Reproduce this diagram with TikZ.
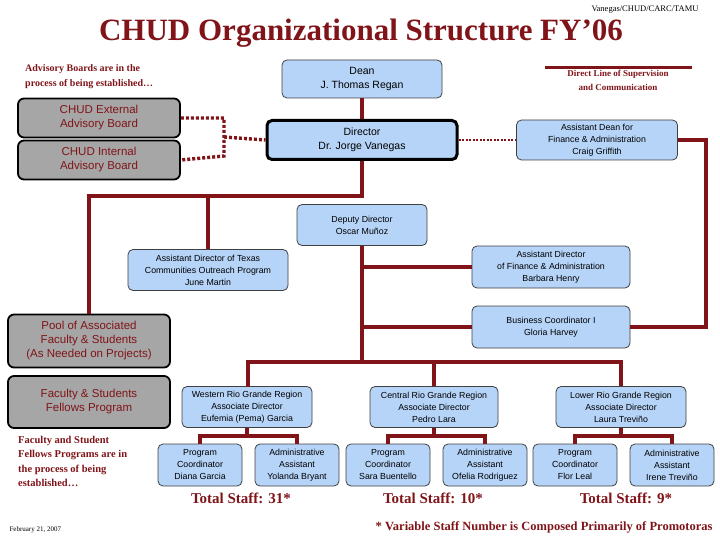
\documentclass[tikz,border=0pt]{standalone}
\usepackage{fontspec}
\setmainfont{Liberation Serif}
\newfontfamily\arial{Liberation Sans}
\definecolor{mar}{RGB}{128,20,25}
\definecolor{bluef}{RGB}{182,212,248}
\definecolor{grayf}{RGB}{166,166,166}
\begin{document}
\begin{tikzpicture}[x=1pt,y=-1pt,
  bx/.style={draw=black!75,fill=bluef,rounded corners=5pt,line width=0.8pt,align=center,font=\arial\fontsize{8.8}{12}\selectfont,inner sep=0pt},
  gb/.style={draw=black,fill=grayf,rounded corners=6pt,line width=1.8pt,align=center,text=mar,font=\arial\fontsize{11.5}{14}\selectfont,inner sep=0pt},
  ln/.style={draw=mar,line width=3.2pt},
  dl/.style={draw=mar,line width=3.4pt,dash pattern=on 3pt off 2pt},
  rt/.style={text=mar,font=\bfseries\fontsize{10}{15}\selectfont,align=left}]
\useasboundingbox (0,0) rectangle (720,540);
\node[font=\fontsize{8.5}{9}\selectfont] (src) at (645,10) {Vanegas/CHUD/CARC/TAMU};
\node[text=mar,font=\bfseries\fontsize{31}{33}\selectfont] (title) at (361,33) {CHUD Organizational Structure FY’06};
\node[rt,anchor=north west,inner sep=0pt] (adv) at (25,64) {Advisory Boards are in the\\process of being established…};
\draw[mar,line width=3pt] (545,68) coordinate (l1) -- (692,68) coordinate (l2);
\node[rt,align=center,font=\bfseries\fontsize{9}{14}\selectfont] (leg) at (618,80) {Direct Line of Supervision\\and Communication};
% boxes
\node[bx,minimum width=160,minimum height=38,font=\arial\fontsize{10.5}{14}\selectfont] (dean) at (362,79) {Dean\\J. Thomas Regan};
\node[bx,minimum width=190,minimum height=39,line width=3pt,draw=black,font=\arial\fontsize{10.5}{14}\selectfont] (dir) at (362,140) {Director\\Dr. Jorge Vanegas};
\node[bx,minimum width=161,minimum height=40] (adean) at (597,140) {Assistant Dean for\\Finance \& Administration\\Craig Griffith};
\node[gb,minimum width=162,minimum height=39] (ext) at (99,118) {CHUD External\\Advisory Board};
\node[gb,minimum width=162,minimum height=39] (int) at (99,160) {CHUD Internal\\Advisory Board};
\node[bx,minimum width=130,minimum height=41] (dep) at (362,225) {Deputy Director\\Oscar Muñoz};
\node[bx,minimum width=160,minimum height=41] (tex) at (208,270) {Assistant Director of Texas\\Communities Outreach Program\\June Martin};
\node[bx,minimum width=158,minimum height=42] (afin) at (551,267) {Assistant Director\\of Finance \& Administration\\Barbara Henry};
\node[bx,minimum width=158,minimum height=42] (bus) at (551,327) {Business Coordinator I\\Gloria Harvey};
\node[gb,minimum width=162,minimum height=53] (pool) at (89,341) {Pool of Associated\\Faculty \& Students\\(As Needed on Projects)};
\node[gb,minimum width=162,minimum height=52] (fel) at (89,402) {Faculty \& Students\\Fellows Program};
\node[bx,minimum width=130,minimum height=41] (wes) at (247,407) {Western Rio Grande Region\\Associate Director\\Eufemia (Pema) Garcia};
\node[bx,minimum width=128,minimum height=41] (cen) at (434,407) {Central Rio Grande Region\\Associate Director\\Pedro Lara};
\node[bx,minimum width=130,minimum height=41] (low) at (621,407) {Lower Rio Grande Region\\Associate Director\\Laura Treviño};
\node[bx,minimum width=84,minimum height=42] (w1) at (200,465) {Program\\Coordinator\\Diana Garcia};
\node[bx,minimum width=84,minimum height=42] (w2) at (297,465) {Administrative\\Assistant\\Yolanda Bryant};
\node[bx,minimum width=84,minimum height=42] (c1) at (388,465) {Program\\Coordinator\\Sara Buentello};
\node[bx,minimum width=84,minimum height=42] (c2) at (485,465) {Administrative\\Assistant\\Ofelia Rodriguez};
\node[bx,minimum width=84,minimum height=42] (l1b) at (575,465) {Program\\Coordinator\\Flor Leal};
\node[bx,minimum width=84,minimum height=42] (l2b) at (672,465) {Administrative\\Assistant\\Irene Treviño};
% texts
\node[text=mar,font=\bfseries\fontsize{15}{17}\selectfont] (t1) at (241,498) {Total Staff: 31*};
\node[text=mar,font=\bfseries\fontsize{15}{17}\selectfont] (t2) at (433,498) {Total Staff: 10*};
\node[text=mar,font=\bfseries\fontsize{15}{17}\selectfont] (t3) at (626,498) {Total Staff: 9*};
\node[rt,anchor=north west,inner sep=0pt,font=\bfseries\fontsize{10.5}{14.5}\selectfont] (fn) at (18,436) {Faculty and Student\\Fellows Programs are in\\the process of being\\established…};
\node[font=\fontsize{7}{8}\selectfont,anchor=west] (date) at (6,530) {February 21, 2007};
\node[text=mar,font=\bfseries\fontsize{12.5}{14}\selectfont,anchor=east] (var) at (716,527) {* Variable Staff Number is Composed Primarily of Promotoras};
% connectors
\draw[ln] (dean.south) -- (dir.north);
\draw[ln] (dir.south) -- (362,196) coordinate (h1) -- (89,196) |- (pool.north);
\draw[ln] (208,196) -- (tex.north);
\draw[ln] (adean.east) -- (706,140) |- (bus.east);
\draw[ln] (dep.south) -- (362,362) coordinate (h2);
\draw[ln] (362,267) -- (afin.west);
\draw[ln] (362,327) -- (bus.west);
\draw[ln] (248,387) -- (248,362) -- (621,362) -- (low.north);
\draw[ln] (434,362) -- (cen.north);
\draw[ln] (wes.south) -- (247,436);
\draw[ln] (w1.north) |- (247,436) -| (w2.north);
\draw[ln] (cen.south) -- (434,436);
\draw[ln] (c1.north) |- (434,436) -| (c2.north);
\draw[ln] (low.south) -- (621,436);
\draw[ln] (l1b.north) |- (621,436) -| (l2b.north);
\draw[dl] (ext.east) -- (224,118) -- (224,156) -- (int.east);
\draw[dl] (224,137) -- (dir.west);
\draw[mar,line width=2.5pt,dash pattern=on 2pt off 1.5pt] (dir.east) -- (adean.west);
\end{tikzpicture}
\end{document}
